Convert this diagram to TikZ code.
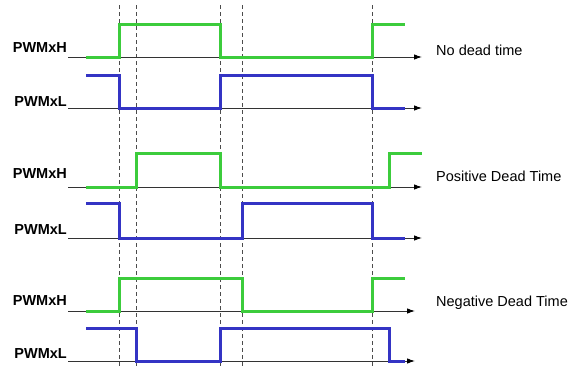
\documentclass[tikz,border=0pt]{standalone}
\usepackage{fontspec}
\setmainfont{Liberation Sans}
\usetikzlibrary{arrows.meta}
\definecolor{pwmgreen}{RGB}{60,204,60}
\definecolor{pwmblue}{RGB}{52,52,196}
\begin{document}
\begin{tikzpicture}[
  x=1pt, y=-1pt,
  sig/.style={
    font=\fontsize{14.5}{17}\selectfont\bfseries,
    anchor=base east,
    inner sep=0pt
  },
  note/.style={
    font=\fontsize{14.5}{17}\selectfont,
    anchor=base west,
    inner sep=0pt
  },
  axis/.style={-{Latex[length=8pt,width=5.5pt,black]}, line width=0.9pt, black!80},
  guide/.style={dash pattern=on 4pt off 3pt, line width=0.7pt, black!70},
  hwave/.style={line width=3pt, pwmgreen},
  lwave/.style={line width=3pt, pwmblue}
]
\useasboundingbox (0,0) rectangle (571,367);

% switching instants
\foreach \t in {119,136,220,242,372}
  \draw[guide] (\t,5) -- (\t,367);

% axes
\coordinate (h1s) at (68,57);  \coordinate (h1e) at (422,57);
\coordinate (l1s) at (68,108); \coordinate (l1e) at (422,108);
\coordinate (h2s) at (68,187); \coordinate (h2e) at (422,187);
\coordinate (l2s) at (68,238); \coordinate (l2e) at (422,238);
\coordinate (h3s) at (68,311); \coordinate (h3e) at (415,311);
\coordinate (l3s) at (68,361); \coordinate (l3e) at (415,361);

\draw[axis] (h1s) -- (h1e);
\draw[axis] (l1s) -- (l1e);
\draw[axis] (h2s) -- (h2e);
\draw[axis] (l2s) -- (l2e);
\draw[axis] (h3s) -- (h3e);
\draw[axis] (l3s) -- (l3e);

% signal names
\node[sig] (h1lbl) at (67,52) {PWMxH};
\node[sig] (l1lbl) at (67,106) {PWMxL};
\node[sig] (h2lbl) at (67,178) {PWMxH};
\node[sig] (l2lbl) at (67,234) {PWMxL};
\node[sig] (h3lbl) at (67,305) {PWMxH};
\node[sig] (l3lbl) at (67,358) {PWMxL};

% cases
\node[note] (nodead) at (436,55) {No dead time};
\node[note] (posdead) at (436,181) {Positive Dead Time};
\node[note] (negdead) at (436,306) {Negative Dead Time};

% no dead time
\draw[hwave] (86,57) -| (119,24) -| (220,57) -| (372,24) -- (405,24);
\draw[lwave] (86,75) -| (119,108) -| (220,75) -| (372,108) -- (405,108);

% positive dead time
\draw[hwave] (86,187) -| (136,153) -| (220,187) -| (389,153) -- (422,153);
\draw[lwave] (86,203) -| (119,238) -| (242,203) -| (372,238) -- (405,238);

% negative dead time
\draw[hwave] (86,311) -| (119,278) -| (242,311) -| (372,278) -- (405,278);
\draw[lwave] (86,328) -| (136,361) -| (220,328) -| (389,361) -- (405,361);
\end{tikzpicture}
\end{document}
